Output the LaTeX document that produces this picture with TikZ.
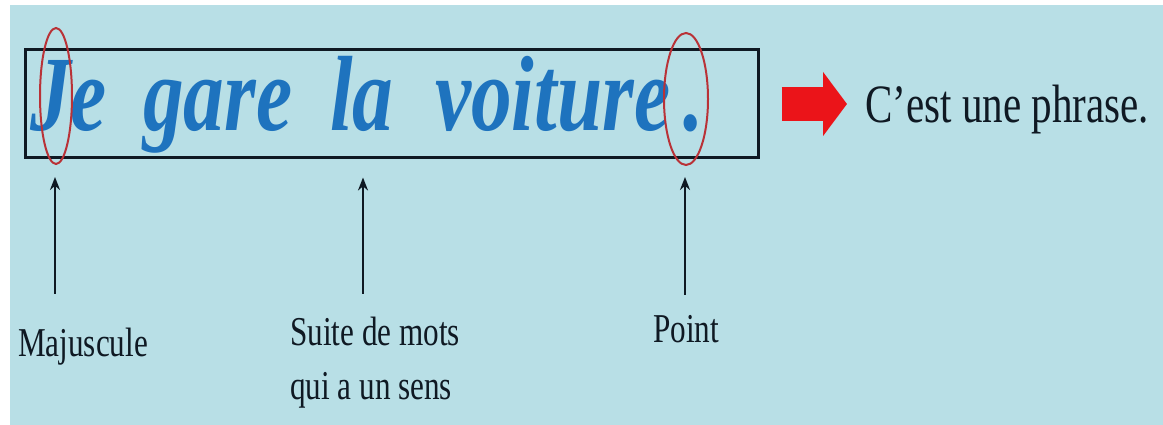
\documentclass[tikz,border=0pt]{standalone}
\usepackage{fontspec}
\setmainfont[FakeStretch=0.76]{Liberation Serif}
\usetikzlibrary{arrows.meta,shapes.geometric}
\definecolor{fond}{RGB}{184,223,230}
\definecolor{bleuphrase}{RGB}{30,115,190}
\definecolor{rougeovale}{RGB}{185,50,55}
\definecolor{rougefleche}{RGB}{235,20,25}
\definecolor{encre}{RGB}{15,25,35}
\tikzset{
  mot/.style={anchor=base west, inner sep=0pt, text=bleuphrase,
    font=\fontsize{107}{110}\selectfont\bfseries\itshape},
  etiquette/.style={inner sep=0pt, align=left, text=encre, font=\fontsize{41}{54}\selectfont},
  ovale/.style={ellipse, draw=rougeovale, line width=2pt, inner sep=0pt},
  fleche/.style={encre, line width=2.5pt, -{Stealth[length=13pt,width=10pt]}}
}
\begin{document}
\begin{tikzpicture}[x=1pt,y=1pt]
\useasboundingbox (0,0) rectangle (1163,425);
\fill[white] (0,0) rectangle (1163,425);
\fill[fond] (10,0) rectangle (1163,420);
% la phrase dans son cadre
\node[draw=encre, line width=3pt, minimum width=733pt, minimum height=108pt, inner sep=0pt] (cadre) at (391.5,321) {};
\node[mot] (je) at (30,294) {Je};
\node[mot] (gare) at (143,294) {gare};
\node[mot] (la) at (330,294) {la};
\node[mot] (voiture) at (435,294) {voiture};
\node[mot] (pointfinal) at (683,294) {.};
\node[ovale, minimum width=32pt, minimum height=136pt] (ovJ) at (56,329) {};
\node[ovale, minimum width=44pt, minimum height=132pt] (ovP) at (686,326) {};
% conclusion
\node[anchor=base west, inner sep=0pt, text=encre, font=\fontsize{54}{60}\selectfont] (conclu) at (865,302) {C’est une phrase.};
\draw[rougefleche, line width=34pt, -{Triangle[length=24pt,width=63pt]}, shorten <=22pt, shorten >=18pt]
  (cadre.east) -- (cadre.east -| conclu.west);
% les etiquettes
\node[etiquette, anchor=base west] (maj) at (18,68) {Majuscule};
\node[etiquette, anchor=north west] (suite) at (290,108) {Suite de mots\\qui a un sens};
\node[etiquette, anchor=base west] (pt) at (653,82) {Point};
\coordinate (queueJ) at (55,131);
\coordinate (queueS) at (363,131);
\coordinate (queueP) at (685,130);
\draw[fleche, shorten >=12pt] (queueJ) -- (queueJ |- ovJ.south);
\draw[fleche, shorten >=18pt] (queueS) -- (queueS |- cadre.south);
\draw[fleche, shorten >=11pt] (queueP) -- (queueP |- ovP.south);
\end{tikzpicture}
\end{document}
